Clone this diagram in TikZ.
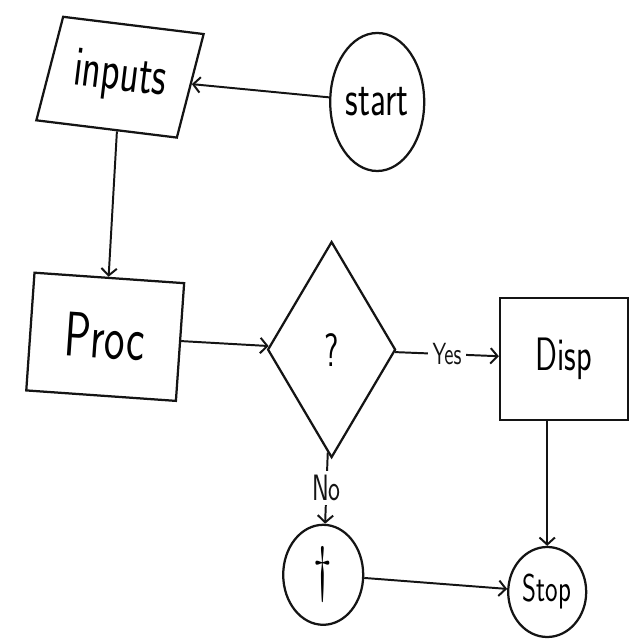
\documentclass[tikz,border=0pt]{standalone}
\usepackage{fontspec}
\usepackage{tikz}
\usetikzlibrary{shapes.geometric}
\usetikzlibrary{arrows.meta}
\colorlet{colbg}{white}
\colorlet{colfg}{black}
\colorlet{colline}{colfg!92!colbg}
\tikzstyle{box}=[draw=colline, line width=1.6pt, inner sep=0pt]
\tikzstyle{blob}=[ellipse, draw=colline, line width=1.6pt, inner sep=0pt]
\tikzstyle{flow}=[line width=1.4pt, colline, -{Straight Barb[length=5pt,width=11pt]}]
\tikzstyle{wordsty}=[fill=colbg, inner sep=3pt, font=\sffamily]
\newcommand{\hand}[2]{\scalebox{1}[1.45]{\sffamily\fontsize{#1}{#1}\selectfont #2}}

\begin{document}
\begin{tikzpicture}[]
      \useasboundingbox (0,0) rectangle (16,16);

      % Top row
      \node[box, trapezium, trapezium left angle=78, trapezium right angle=102, trapezium stretches=true,
            minimum width=3.9cm, minimum height=2.65cm, rotate=-7] (inputs) at (3.0,14.07) {\hand{28}{inputs}};
      \node[blob, minimum width=2.35cm, minimum height=3.45cm] (start) at (9.43,13.45) {\hand{25}{start}};

      \draw[flow] (start) -- (inputs);

      % Middle row
      \node[box, minimum width=3.75cm, minimum height=2.95cm, rotate=-4] (proc) at (2.63,7.58) {\hand{31}{Proc}};
      \node[box, diamond, minimum width=3.2cm, minimum height=5.4cm] (dec) at (8.29,7.26) {\hand{23}{?}};
      \node[box, minimum width=3.2cm, minimum height=3.05cm] (disp) at (14.1,7.03) {\hand{23}{Disp}};

      \draw[flow] (inputs) -- (proc);
      \draw[flow] (proc) -- (dec);
      \draw[flow] (dec) -- node[wordsty]{\hand{15}{Yes}} (disp);

      % Bottom row
      \node[blob, minimum width=2.0cm, minimum height=2.5cm] (plus) at (8.08,1.63) {\hand{30}{\dag}};
      \node[blob, minimum width=1.95cm, minimum height=2.25cm] (stop) at (13.68,1.2) {\hand{19}{Stop}};

      \draw[flow] (dec) -- node[wordsty]{\hand{18}{No}} (plus);
      \draw[flow] (plus) -- (stop);
      \draw[flow] (disp.south -| stop) -- (stop);
    \end{tikzpicture}
\end{document}
